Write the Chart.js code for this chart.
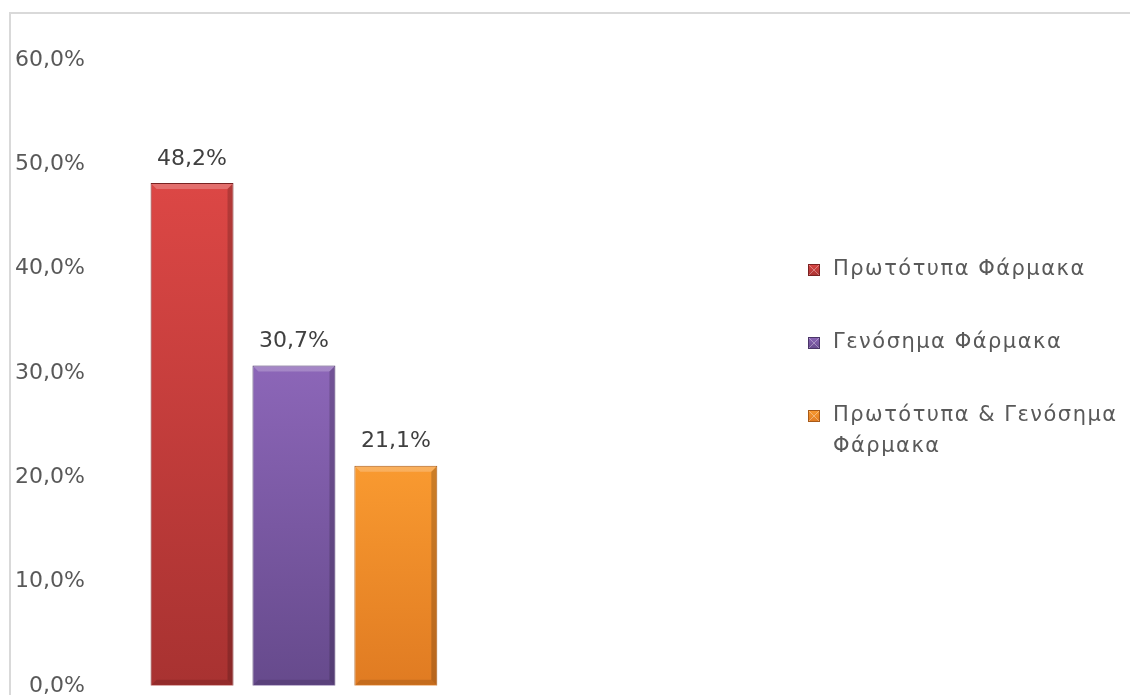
<!DOCTYPE html>
<html>
<head>
<meta charset="utf-8">
<script src="https://cdn.jsdelivr.net/npm/chart.js@4/dist/chart.umd.min.js"></script>
<style>
html,body{margin:0;padding:0;background:#fff;overflow:hidden;}
#wrap{position:relative;width:1130px;height:709px;}
</style>
</head>
<body>
<div id="wrap"><canvas id="c" width="1130" height="709"></canvas></div>
<script>
const categories = [''];
const seriesNames = ['Πρωτότυπα Φάρμακα', 'Γενόσημα Φάρμακα', 'Πρωτότυπα & Γενόσημα Φάρμακα'];
const seriesValues = [48.2, 30.7, 21.1];
const yTickMin = 0, yTickMax = 60, yTickStep = 10;

const topColors = ['#dc4745', '#8c66b8', '#f99a30'];
const bottomColors = ['#a83231', '#664a8c', '#e07b22'];
const edgeColors = ['#7a2222', '#4a3568', '#a85a18'];

const fmt = v => v.toFixed(1).replace('.', ',') + '%';

function gradFor(i) {
  return (ctx) => {
    const chart = ctx.chart;
    const area = chart.chartArea;
    if (!area) return topColors[i];
    const y = chart.scales.y;
    const top = y.getPixelForValue(seriesValues[i]);
    const bottom = y.getPixelForValue(0);
    const g = chart.ctx.createLinearGradient(0, top, 0, bottom);
    g.addColorStop(0, topColors[i]);
    g.addColorStop(1, bottomColors[i]);
    return g;
  };
}

const datasets = seriesNames.map((name, i) => ({
  label: name,
  data: [seriesValues[i]],
  backgroundColor: gradFor(i),
  borderColor: edgeColors[i],
  borderWidth: 1,
  categoryPercentage: 0.80,
  barPercentage: 0.814
}));

const frame = {
  id: 'frame',
  beforeDraw(chart) {
    const c = chart.ctx;
    c.save();
    c.strokeStyle = '#d9d9d9';
    c.lineWidth = 2;
    c.beginPath();
    c.moveTo(10, 800);
    c.lineTo(10, 13);
    c.lineTo(1130, 13);
    c.stroke();
    c.restore();
  }
};

const barBevel = {
  id: 'barBevel',
  afterDatasetsDraw(chart) {
    const c = chart.ctx;
    c.save();
    chart.data.datasets.forEach((ds, i) => {
      chart.getDatasetMeta(i).data.forEach(bar => {
        const w = bar.width, x0 = bar.x - w / 2, x1 = bar.x + w / 2, y0 = bar.y, y1 = bar.base;
        const b = 6;
        c.fillStyle = 'rgba(255,255,255,0.22)';
        c.beginPath();
        c.moveTo(x0 + 1, y0 + 1); c.lineTo(x1 - 1, y0 + 1); c.lineTo(x1 - b, y0 + b); c.lineTo(x0 + b, y0 + b); c.closePath();
        c.fill();
        c.fillStyle = 'rgba(0,0,0,0.18)';
        c.beginPath();
        c.moveTo(x1 - 1, y0 + 1); c.lineTo(x1 - 1, y1 - 1); c.lineTo(x1 - b, y1 - b); c.lineTo(x1 - b, y0 + b); c.closePath();
        c.fill();
        c.fillStyle = 'rgba(0,0,0,0.12)';
        c.beginPath();
        c.moveTo(x0 + 1, y1 - 1); c.lineTo(x1 - 1, y1 - 1); c.lineTo(x1 - b, y1 - b); c.lineTo(x0 + b, y1 - b); c.closePath();
        c.fill();
      });
    });
    c.restore();
  }
};

const valueLabels = {
  id: 'valueLabels',
  afterDatasetsDraw(chart) {
    const c = chart.ctx;
    c.save();
    c.font = '22px "DejaVu Sans"';
    c.fillStyle = '#404040';
    c.textAlign = 'center';
    c.textBaseline = 'middle';
    chart.data.datasets.forEach((ds, i) => {
      const meta = chart.getDatasetMeta(i);
      meta.data.forEach((bar, j) => {
        c.fillText(fmt(ds.data[j]), bar.x, bar.y - 24);
      });
    });
    c.restore();
  }
};

const sideLegend = {
  id: 'sideLegend',
  afterDraw(chart) {
    const c = chart.ctx;
    c.save();
    c.font = '21px "DejaVu Sans"';
    if ('letterSpacing' in c) c.letterSpacing = '1.5px';
    c.textBaseline = 'middle';
    const mx = 808, tx = 833, maxW = 290, lineH = 31;
    let y = 270;
    chart.data.datasets.forEach((ds, i) => {
      const g = c.createLinearGradient(0, y - 6, 0, y + 6);
      g.addColorStop(0, topColors[i]);
      g.addColorStop(1, bottomColors[i]);
      c.fillStyle = g;
      c.fillRect(mx, y - 6, 12, 12);
      c.strokeStyle = edgeColors[i];
      c.lineWidth = 1;
      c.strokeRect(mx + 0.5, y - 5.5, 11, 11);
      c.strokeStyle = 'rgba(255,255,255,0.35)';
      c.beginPath();
      c.moveTo(mx + 1, y - 5); c.lineTo(mx + 11, y + 5);
      c.moveTo(mx + 11, y - 5); c.lineTo(mx + 1, y + 5);
      c.stroke();
      c.fillStyle = '#595959';
      const words = ds.label.split(' ');
      const lines = [];
      let line = '';
      words.forEach(w => {
        const test = line ? line + ' ' + w : w;
        if (c.measureText(test).width > maxW && line) { lines.push(line); line = w; }
        else line = test;
      });
      lines.push(line);
      lines.forEach((l, k) => c.fillText(l, tx, y + k * lineH));
      y += 73;
    });
    c.restore();
  }
};

new Chart(document.getElementById('c'), {
  type: 'bar',
  data: { labels: categories, datasets },
  options: {
    responsive: false,
    animation: false,
    layout: { padding: { top: 60, right: 645, bottom: 22, left: 5 } },
    plugins: { legend: { display: false }, tooltip: { enabled: false } },
    scales: {
      x: { display: false },
      y: {
        min: yTickMin, max: yTickMax,
        ticks: {
          stepSize: yTickStep,
          callback: v => fmt(v),
          color: '#595959',
          font: { family: 'DejaVu Sans', size: 22 },
          padding: 10
        },
        grid: { display: false },
        border: { display: false }
      }
    }
  },
  plugins: [frame, barBevel, valueLabels, sideLegend]
});
</script>
</body>
</html>
